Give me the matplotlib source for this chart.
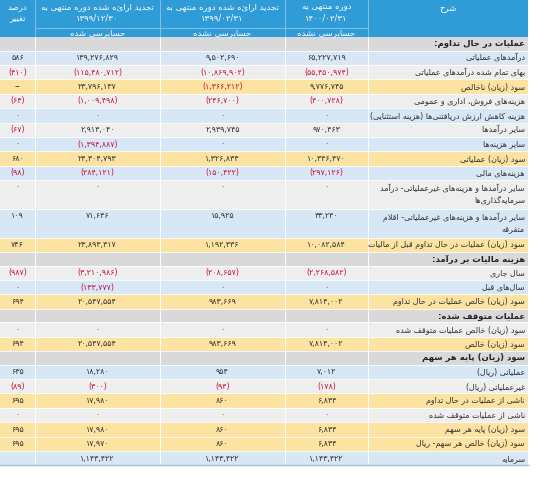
import matplotlib
matplotlib.use("Agg")
import matplotlib.pyplot as plt
from matplotlib.patches import Rectangle

# ---------------- data ----------------
row_labels = [
    "عملیات در حال تداوم:",
    "درآمدهای عملیاتی",
    "بهای تمام شده درآمدهای عملیاتی",
    "سود (زیان) ناخالص",
    "هزینه‌های فروش، اداری و عمومی",
    "هزینه کاهش ارزش دریافتنی‌ها (هزینه استثنایی)",
    "سایر درآمدها",
    "سایر هزینه‌ها",
    "سود (زیان) عملیاتی",
    "هزینه‌های مالی",
    "سایر درآمدها و هزینه‌های غیرعملیاتی- درآمد\nسرمایه‌گذاری‌ها",
    "سایر درآمدها و هزینه‌های غیرعملیاتی- اقلام\nمتفرقه",
    "سود (زیان) عملیات در حال تداوم قبل از مالیات",
    "هزینه مالیات بر درآمد:",
    "سال جاری",
    "سال‌های قبل",
    "سود (زیان) خالص عملیات در حال تداوم",
    "عملیات متوقف شده:",
    "سود (زیان) خالص عملیات متوقف شده",
    "سود (زیان) خالص",
    "سود (زیان) پایه هر سهم",
    "عملیاتی (ریال)",
    "غیرعملیاتی (ریال)",
    "ناشی از عملیات در حال تداوم",
    "ناشی از عملیات متوقف شده",
    "سود (زیان) پایه هر سهم",
    "سود (زیان) خالص هر سهم- ریال",
    "سرمایه",
]
row_kind = ["s", "b", "g", "y", "g", "b", "g", "b", "y", "b", "g", "b", "y",
            "s", "g", "b", "y", "s", "g", "y", "s", "b", "g", "y", "g", "y", "y", "b"]
S = None
p1400_02_31 = [S, 65227719, -55450974, 9776745, -400728, 0, 970463, 0, 10346470, -297126, 0, 33240,
               10082584, S, -2268582, 0, 7814002, S, 0, 7814002, S, 7012, -178, 6834, 0, 6834, 6834, 1143422]
p1399_02_31 = [S, 9502690, -10869902, -1366212, -246700, 0, 2939745, 0, 1326833, -150422, 0, 15925,
               1192336, S, -208657, 0, 983669, S, 0, 983669, S, 954, -94, 860, 0, 860, 860, 1143422]
p1399_12_30 = [S, 139276829, -115480712, 23796137, -1009498, 0, 2913040, -1394887, 24304793, -284121, 0, 71646,
               23893317, S, -3210986, -133777, 20547554, S, 0, 20547554, S, 18280, -300, 17980, 0, 17980, 17970, 1143422]
pct_change = [S, 586, -410, "--", -63, 0, -67, 0, 680, -98, 0, 109, 746, S, -987, 0, 694, S, 0, 694, S,
              635, -89, 695, 0, 695, 695, ""]
headers = ["درصد\nتغییر", "تجدید ارائه شده دوره منتهی به\n۱۳۹۹/۱۲/۳۰",
           "تجدید ارائه شده دوره منتهی به\n۱۳۹۹/۰۲/۳۱", "دوره منتهی به\n۱۴۰۰/۰۲/۳۱", "شرح"]
subheaders = ["حسابرسی شده", "حسابرسی نشده", "حسابرسی نشده"]

# ---------------- minimal Arabic shaping ----------------
F = {  # iso, fin, ini, med
    'ا': (0xFE8D, 0xFE8E, None, None), 'آ': (0xFE81, 0xFE82, None, None),
    'ب': (0xFE8F, 0xFE90, 0xFE91, 0xFE92), 'پ': (0xFB56, 0xFB57, 0xFB58, 0xFB59),
    'ت': (0xFE95, 0xFE96, 0xFE97, 0xFE98), 'ث': (0xFE99, 0xFE9A, 0xFE9B, 0xFE9C),
    'ج': (0xFE9D, 0xFE9E, 0xFE9F, 0xFEA0), 'چ': (0xFB7A, 0xFB7B, 0xFB7C, 0xFB7D),
    'ح': (0xFEA1, 0xFEA2, 0xFEA3, 0xFEA4), 'خ': (0xFEA5, 0xFEA6, 0xFEA7, 0xFEA8),
    'د': (0xFEA9, 0xFEAA, None, None), 'ذ': (0xFEAB, 0xFEAC, None, None),
    'ر': (0xFEAD, 0xFEAE, None, None), 'ز': (0xFEAF, 0xFEB0, None, None),
    'ژ': (0xFB8A, 0xFB8B, None, None),
    'س': (0xFEB1, 0xFEB2, 0xFEB3, 0xFEB4), 'ش': (0xFEB5, 0xFEB6, 0xFEB7, 0xFEB8),
    'ص': (0xFEB9, 0xFEBA, 0xFEBB, 0xFEBC), 'ض': (0xFEBD, 0xFEBE, 0xFEBF, 0xFEC0),
    'ط': (0xFEC1, 0xFEC2, 0xFEC3, 0xFEC4), 'ظ': (0xFEC5, 0xFEC6, 0xFEC7, 0xFEC8),
    'ع': (0xFEC9, 0xFECA, 0xFECB, 0xFECC), 'غ': (0xFECD, 0xFECE, 0xFECF, 0xFED0),
    'ف': (0xFED1, 0xFED2, 0xFED3, 0xFED4), 'ق': (0xFED5, 0xFED6, 0xFED7, 0xFED8),
    'ک': (0xFB8E, 0xFB8F, 0xFB90, 0xFB91), 'گ': (0xFB92, 0xFB93, 0xFB94, 0xFB95),
    'ل': (0xFEDD, 0xFEDE, 0xFEDF, 0xFEE0), 'م': (0xFEE1, 0xFEE2, 0xFEE3, 0xFEE4),
    'ن': (0xFEE5, 0xFEE6, 0xFEE7, 0xFEE8), 'و': (0xFEED, 0xFEEE, None, None),
    'ه': (0xFEE9, 0xFEEA, 0xFEEB, 0xFEEC), 'ی': (0xFBFC, 0xFBFD, 0xFBFE, 0xFBFF),
}


def shape_line(s):
    chars = list(s)
    out = []
    n = len(chars)
    i = 0
    def joins_prev(k):
        return k >= 0 and chars[k] in F and F[chars[k]][2] is not None
    while i < n:
        c = chars[i]
        if c == 'ل' and i + 1 < n and chars[i + 1] in ('ا', 'آ'):
            iso, fin = (0xFEFB, 0xFEFC) if chars[i + 1] == 'ا' else (0xFEF5, 0xFEF6)
            out.append(chr(fin if joins_prev(i - 1) else iso))
            i += 2
            continue
        if c in F:
            f = F[c]
            prev_j = joins_prev(i - 1)
            next_j = f[2] is not None and i + 1 < n and chars[i + 1] in F
            if prev_j and next_j:
                out.append(chr(f[3]))
            elif prev_j:
                out.append(chr(f[1]))
            elif next_j:
                out.append(chr(f[2]))
            else:
                out.append(chr(f[0]))
        elif c == '\u200c':
            pass
        else:
            out.append(c)
        i += 1
    vis = out[::-1]
    swap = {'(': ')', ')': '('}
    return ''.join(swap.get(ch, ch) for ch in vis)


def fa(s):
    res = []
    for line in s.split("\n"):
        if any(ch in F for ch in line):
            res.append(shape_line(line))
        else:
            res.append(line)
    return "\n".join(res)


PD = str.maketrans("0123456789", "۰۱۲۳۴۵۶۷۸۹")


def fmt(v):
    if v is None:
        return ""
    if isinstance(v, str):
        return v
    s = f"{abs(v):,}".translate(PD)
    return f"({s})" if v < 0 else s

# ---------------- drawing ----------------
plt.rcParams['font.family'] = ['DejaVu Sans']
fig = plt.figure(figsize=(5.5, 4.78), dpi=100)
ax = fig.add_axes([0, 0, 1, 1])
ax.set_xlim(0, 550)
ax.set_ylim(478, 0)
ax.axis("off")

col_x = [0, 35, 160, 285, 368, 528]
HB = "#2F9BD7"
COL = {"s": "#D9D9D9", "b": "#D7E7F6", "g": "#EEEEEE", "y": "#FCE3A2"}
NEG = "#C8143C"
TXT = "#333333"
FS = 5.8

# header
ax.add_patch(Rectangle((0, 0), 528, 37, facecolor=HB, edgecolor="none"))
for i, hd in enumerate(headers):
    cx = (col_x[i] + col_x[i + 1]) / 2
    if i == 4:
        ax.text(cx, 9, fa(hd), ha="center", va="center", color="white", fontsize=FS + 0.3)
    elif i == 0:
        ax.text(cx, 13, fa(hd), ha="center", va="center", color="white", fontsize=FS + 0.3, linespacing=1.3)
    else:
        ax.text(cx, 12, fa(hd), ha="center", va="center", color="white", fontsize=FS + 0.3, linespacing=1.3)
for i, sh in enumerate(subheaders):
    cx = (col_x[i + 1] + col_x[i + 2]) / 2
    ax.text(cx, 32.5, fa(sh), ha="center", va="center", color="white", fontsize=FS + 0.3)
ax.plot([35, 368], [28, 28], color="#8CC6EA", lw=0.6)
for x in col_x[1:-1]:
    ax.plot([x, x], [0, 37], color="#8CC6EA", lw=0.6)

# body
y = 37.0
h = 14.4
for r, lab in enumerate(row_labels):
    units = 2 if "\n" in lab else 1
    rh = h * units if row_kind[r] != "s" else 13.5
    ax.add_patch(Rectangle((0, y), 528, rh, facecolor=COL[row_kind[r]], edgecolor="none"))
    for x in col_x[1:-1]:
        ax.plot([x, x], [y, y + rh], color="white", lw=0.7)
    ax.plot([0, 528], [y + rh, y + rh], color="white", lw=0.6)
    cy = y + rh / 2
    bold = row_kind[r] == "s"
    ax.text(col_x[5] - 3, cy, fa(lab), ha="right", va="center", color="#222222" if bold else TXT,
            fontsize=FS + (0.3 if bold else 0), fontweight="bold" if bold else "normal", linespacing=1.5)
    if row_kind[r] != "s":
        vals = [pct_change[r], p1399_12_30[r], p1399_02_31[r], p1400_02_31[r]]
        for c, v in enumerate(vals):
            neg = isinstance(v, (int, float)) and v < 0
            ty = y + 7 if units == 2 else cy
            ax.text((col_x[c] + col_x[c + 1]) / 2, ty, fmt(v), ha="center", va="center",
                    color=NEG if neg else TXT, fontsize=FS)
    y += rh
ax.plot([0, 528], [y, y], color="#9DBFDD", lw=1.0)

fig.savefig("out.png", dpi=100)
